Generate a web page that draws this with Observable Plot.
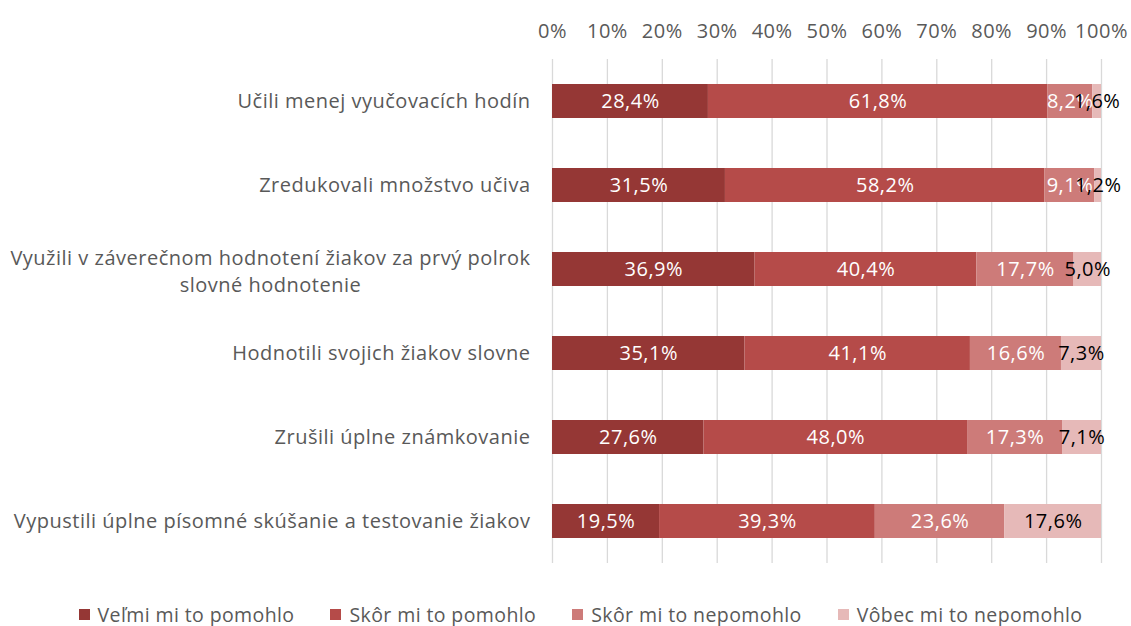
<!DOCTYPE html>
<html>
<head>
<meta charset="utf-8">
<script src="https://cdn.jsdelivr.net/npm/d3@7"></script>
<script src="https://cdn.jsdelivr.net/npm/@observablehq/plot@0.6"></script>
<style>
  body { margin: 0; background: #fff; }
  #legend { display: flex; justify-content: center; gap: 36px; padding-left: 30px; padding-top: 1px;
    font-family: "Open Sans", sans-serif; font-size: 19.5px; letter-spacing: 0.4px; color: #595959; }
  #legend .item { display: flex; align-items: center; gap: 8px; }
  #legend .sw { width: 11px; height: 11px; display: inline-block; }
</style>
</head>
<body>
<div id="chart"></div>
<div id="legend"></div>
<script>
const categories = [
  "Učili menej vyučovacích hodín",
  "Zredukovali množstvo učiva",
  "Využili v záverečnom hodnotení žiakov za prvý polrok\nslovné hodnotenie",
  "Hodnotili svojich žiakov slovne",
  "Zrušili úplne známkovanie",
  "Vypustili úplne písomné skúšanie a testovanie žiakov"
];
const seriesNames = ["Veľmi mi to pomohlo", "Skôr mi to pomohlo", "Skôr mi to nepomohlo", "Vôbec mi to nepomohlo"];
const seriesColors = ["#953735", "#b54b49", "#cd7b79", "#e6b9b8"];
const labelColors = ["#ffffff", "#ffffff", "#ffffff", "#000000"];
const velmi = [28.4, 31.5, 36.9, 35.1, 27.6, 19.5];
const skorAno = [61.8, 58.2, 40.4, 41.1, 48.0, 39.3];
const skorNie = [8.2, 9.1, 17.7, 16.6, 17.3, 23.6];
const vobecNie = [1.6, 1.2, 5.0, 7.3, 7.1, 17.6];
const xTicks = [0, 0.1, 0.2, 0.3, 0.4, 0.5, 0.6, 0.7, 0.8, 0.9, 1];

const FONT = "Open Sans";
const FS = 20;
const LS = 0.5;
const seriesValues = [velmi, skorAno, skorNie, vobecNie];
const data = [];
seriesNames.forEach((s, si) => {
  categories.forEach((c, ci) => {
    data.push({cat: c, series: s, si, value: seriesValues[si][ci]});
  });
});
const fmt = v => v.toFixed(1).replace(".", ",") + "%";
const single = categories.filter(c => !c.includes("\n"));
const multi = categories.filter(c => c.includes("\n"));

// measure first line width of the wrapped label to center line 2 under it
const ctx = document.createElement("canvas").getContext("2d");
ctx.font = `${FS}px "${FONT}"`;
const firstLine = multi.length ? multi[0].split("\n")[0] : "";
const firstLineW = ctx.measureText(firstLine).width + LS * firstLine.length;

const plot = Plot.plot({
  width: 1131,
  height: 600,
  marginLeft: 552,
  marginRight: 30,
  marginTop: 59,
  marginBottom: 37,
  style: {fontFamily: `"${FONT}", sans-serif`, fontSize: FS + "px", letterSpacing: LS + "px", color: "#595959", background: "#fff"},
  x: {domain: [0, 1], axis: null, label: null},
  y: {domain: categories, paddingInner: 0.6, paddingOuter: 0.3, axis: null, label: null},
  color: {domain: seriesNames, range: seriesColors},
  marks: [
    Plot.gridX(xTicks, {stroke: "#d9d9d9", strokeOpacity: 1, strokeWidth: 1.3}),
    Plot.axisX(xTicks, {anchor: "top", label: null, tickSize: 0, tickPadding: 22, tickFormat: d3.format(".0%"), fill: "#595959", fontSize: FS}),
    Plot.barX(data, Plot.stackX({offset: "normalize", order: null, x: "value", y: "cat", fill: "series", z: "series"})),
    Plot.text(data, Plot.stackX({offset: "normalize", order: null, x: "value", y: "cat", z: "series",
      text: d => fmt(d.value), fill: d => labelColors[d.si], fontSize: FS})),
    Plot.text(single, {y: d => d, text: d => d, frameAnchor: "left", textAnchor: "end", dx: -22, fill: "#595959", fontSize: FS}),
    Plot.text(multi, {y: d => d, text: d => d, frameAnchor: "left", textAnchor: "middle", dx: -(22 + firstLineW / 2), lineHeight: 1.35, fill: "#595959", fontSize: FS})
  ]
});
document.getElementById("chart").appendChild(plot);

const legend = document.getElementById("legend");
seriesNames.forEach((s, i) => {
  const item = document.createElement("div");
  item.className = "item";
  const sw = document.createElement("span");
  sw.className = "sw";
  sw.style.background = seriesColors[i];
  const t = document.createElement("span");
  t.textContent = s;
  item.appendChild(sw);
  item.appendChild(t);
  legend.appendChild(item);
});
</script>
</body>
</html>
